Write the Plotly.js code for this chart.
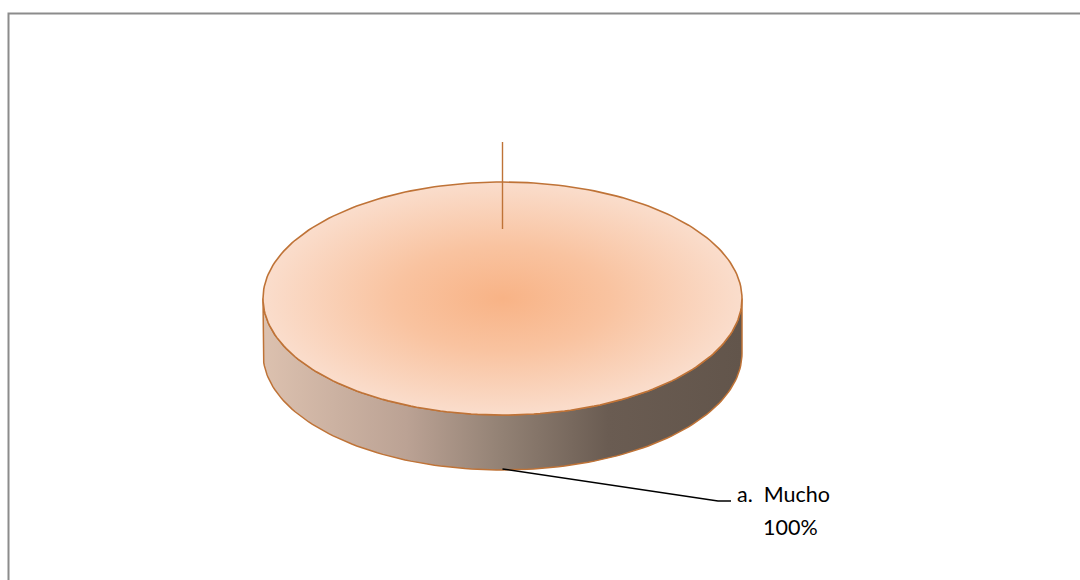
<!DOCTYPE html>
<html>
<head>
<meta charset="utf-8">
<script src="https://cdn.plot.ly/plotly-3.0.1.min.js"></script>
<style>html,body{margin:0;padding:0;background:#fff;}#chart{width:1080px;height:580px;}</style>
</head>
<body>
<div id="chart"></div>
<script>
// ---- data ----
const labels = ['a.  Mucho'];
const values = [100];

// ---- geometry / style (pixel-like axis units) ----
const CX = 502.5, CY = 298.5, RX = 239.5, RY = 116.5, DEPTH = 55;
const EDGE = '#BF7337';
const FONT = {family: 'Lato, "Open Sans", sans-serif', size: 21.5, color: '#000'};

const total = values.reduce((a, b) => a + b, 0);
const traces = [];
const annotations = [];

// angle measured clockwise from top (12 o'clock), in degrees
function rimPoint(deg, dy) {
  const r = deg * Math.PI / 180;
  return [CX + RX * Math.sin(r), CY - RY * Math.cos(r) + (dy || 0)];
}

let start = 0;
values.forEach((v, i) => {
  const sweep = 360 * v / total;
  const end = start + sweep;
  // side band: visible front half of the rim (90..270 deg) intersected with slice
  const a0 = Math.max(start, 90), a1 = Math.min(end, 270);
  if (a1 > a0) {
    const sx = [], sy = [];
    const n = 120;
    for (let k = 0; k <= n; k++) {
      const p = rimPoint(a0 + (a1 - a0) * k / n, 0);
      sx.push(p[0]); sy.push(p[1]);
    }
    for (let k = n; k >= 0; k--) {
      const p = rimPoint(a0 + (a1 - a0) * k / n, DEPTH);
      sx.push(p[0]); sy.push(p[1]);
    }
    sx.push(sx[0]); sy.push(sy[0]);
    traces.push({
      type: 'scatter', mode: 'lines', x: sx, y: sy, fill: 'toself',
      line: {color: EDGE, width: 1.5},
      fillgradient: {type: 'horizontal', start: CX - RX, stop: CX + RX,
        colorscale: [[0, '#DCC1AF'], [0.3, '#BBA294'], [0.5, '#928174'], [0.72, '#6A5C52'], [1, '#62554B']]},
      hoverinfo: 'skip'
    });
  }
  // top face
  const tx = [], ty = [];
  const m = 240;
  if (sweep < 360) { tx.push(CX); ty.push(CY); }
  for (let k = 0; k <= m; k++) {
    const p = rimPoint(start + sweep * k / m, 0);
    tx.push(p[0]); ty.push(p[1]);
  }
  traces.push({
    type: 'scatter', mode: 'lines', x: tx, y: ty, fill: 'toself',
    line: {color: EDGE, width: 1.6},
    fillgradient: {type: 'radial',
      colorscale: [[0, '#F8B386'], [0.45, '#F9C3A0'], [1, '#FADDCC']]},
    hoverinfo: 'skip'
  });
  // slice boundary edge at start angle
  const b = rimPoint(start, 0);
  traces.push({
    type: 'scatter', mode: 'lines', x: [b[0], b[0]], y: [b[1] - 40, b[1] + 47],
    line: {color: EDGE, width: 1.4}, hoverinfo: 'skip'
  });
  // leader line from mid-angle point on bottom of side
  const mid = start + sweep / 2;
  const lp = rimPoint(mid, DEPTH);
  traces.push({
    type: 'scatter', mode: 'lines', x: [lp[0], 718, 731], y: [lp[1] - 1, 501, 501],
    line: {color: '#000', width: 1.5}, hoverinfo: 'skip'
  });
  annotations.push({
    x: 735, y: 494, xref: 'x', yref: 'y', xanchor: 'left', yanchor: 'middle',
    text: labels[i], showarrow: false, align: 'left', font: FONT
  });
  annotations.push({
    x: 790, y: 527, xref: 'x', yref: 'y', xanchor: 'center', yanchor: 'middle',
    text: Math.round(v / total * 100) + '%', showarrow: false, font: FONT
  });
  start = end;
});

const layout = {
  width: 1080, height: 580,
  margin: {l: 0, r: 0, t: 0, b: 0},
  paper_bgcolor: '#fff', plot_bgcolor: '#fff',
  showlegend: false, hovermode: false,
  xaxis: {range: [0, 1080], visible: false, fixedrange: true},
  yaxis: {range: [580, 0], visible: false, fixedrange: true},
  shapes: [{type: 'rect', xref: 'x', yref: 'y', x0: 8.5, y0: 13.5, x1: 1100, y1: 600,
            line: {color: '#8C8C8C', width: 2}, fillcolor: 'rgba(0,0,0,0)', layer: 'below'}],
  annotations: annotations
};

Plotly.newPlot('chart', traces, layout, {staticPlot: true, displayModeBar: false});
</script>
</body>
</html>
